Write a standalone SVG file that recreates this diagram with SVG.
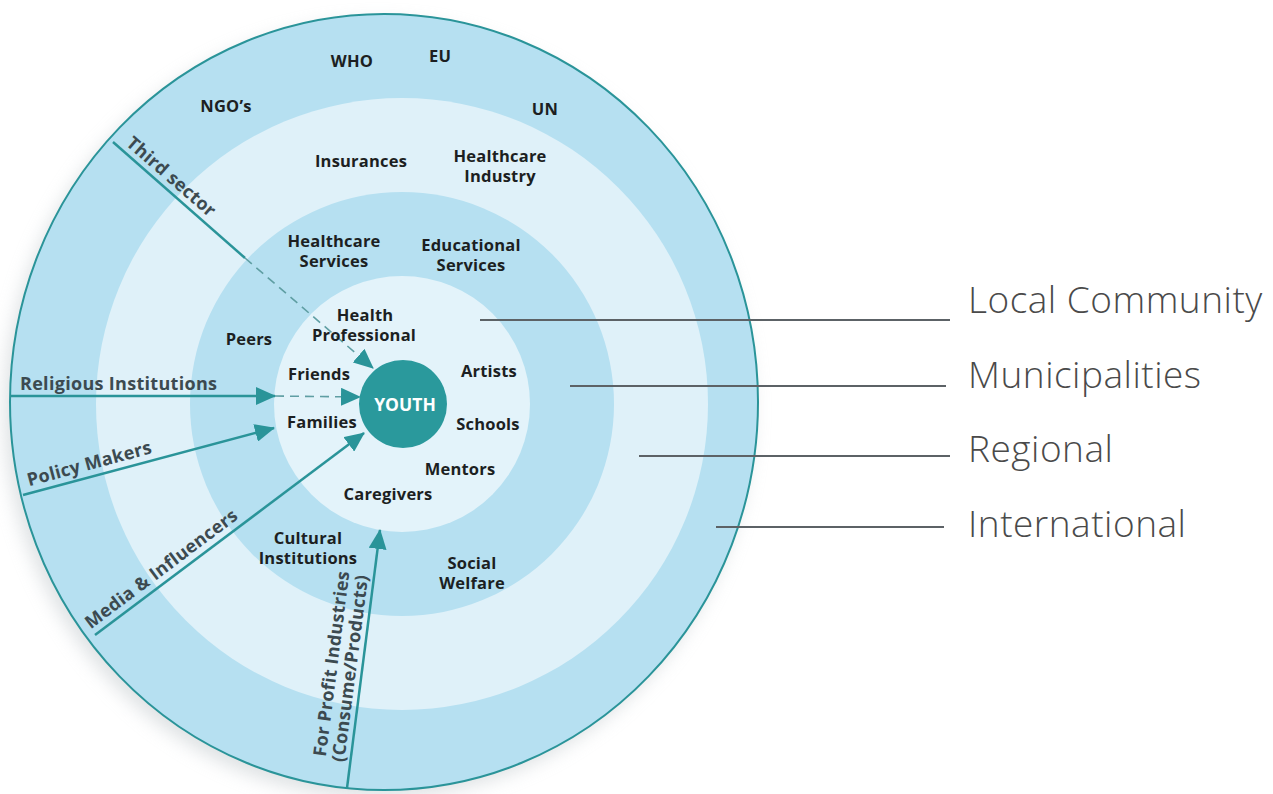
<svg xmlns="http://www.w3.org/2000/svg" width="1273" height="794" viewBox="0 0 1273 794">
<defs>
  <filter id="glow" x="-20%" y="-20%" width="140%" height="140%">
    <feGaussianBlur stdDeviation="9"/>
  </filter>
  <marker id="arr" viewBox="0 0 20 18" refX="19" refY="9" markerWidth="20" markerHeight="18" markerUnits="userSpaceOnUse" orient="auto">
    <path d="M0,0 L20,9 L0,18 z" fill="#2a9499"/>
  </marker>
  <style>
    .lbl{font-family:"Open Sans","Liberation Sans",sans-serif;font-weight:700;font-size:16.5px;fill:#1c1f22;text-anchor:middle;letter-spacing:0.2px}
    .side{font-family:"Open Sans","Liberation Sans",sans-serif;font-weight:700;font-size:18px;fill:#3c4a50;letter-spacing:0.3px}
    .legend{font-family:"Open Sans","Liberation Sans",sans-serif;font-weight:300;font-size:37px;fill:#4a4a4a;letter-spacing:0.5px}
    .solid{stroke:#2a9499;stroke-width:2.5;fill:none}
    .dash{stroke:#5f9ea3;stroke-width:1.6;stroke-dasharray:9 6;fill:none}
    .leg{stroke:#5c6266;stroke-width:2}
  </style>
</defs>
<rect width="1273" height="794" fill="#ffffff"/>

<g id="rings">
  <ellipse cx="378" cy="410" rx="374" ry="388" fill="#c9cfd2" opacity="0.6" filter="url(#glow)"/>
  <ellipse id="international" cx="384" cy="402" rx="374" ry="388" fill="#b6e0f1" stroke="#2a9499" stroke-width="2"/>
  <circle id="regional" cx="402" cy="404" r="306" fill="#dff1f9"/>
  <circle id="municipalities" cx="402" cy="404" r="212" fill="#b6e0f1"/>
  <circle id="local" cx="402" cy="404" r="128" fill="#e3f3fa"/>
</g>

<g id="legend-lines">
  <line class="leg" x1="480" y1="320" x2="950" y2="320"/>
  <line class="leg" x1="570" y1="386" x2="946" y2="386"/>
  <line class="leg" x1="639" y1="456" x2="950" y2="456"/>
  <line class="leg" x1="716" y1="527" x2="944" y2="527"/>
</g>

<g id="connectors">
  <line class="solid" x1="113" y1="142" x2="245" y2="258"/>
  <line class="dash" x1="245" y1="258" x2="373" y2="368" marker-end="url(#arr)"/>
  <line class="solid" x1="10" y1="396" x2="275" y2="396" marker-end="url(#arr)"/>
  <line class="dash" x1="275" y1="396" x2="360" y2="397" marker-end="url(#arr)"/>
  <line class="solid" x1="23" y1="495" x2="274" y2="428" marker-end="url(#arr)"/>
  <line class="solid" x1="95" y1="635" x2="364" y2="433" marker-end="url(#arr)"/>
  <line class="solid" x1="347" y1="788" x2="380" y2="530" marker-end="url(#arr)"/>
</g>

<g id="youth">
  <circle cx="403" cy="404" r="44" fill="#2a999c"/>
  <text x="405" y="411" style="font-family:'Open Sans','Liberation Sans',sans-serif;font-weight:700;font-size:17.5px;fill:#ffffff;text-anchor:middle">YOUTH</text>
</g>

<g id="side-labels">
  <g id="third-sector" transform="translate(113,142) rotate(41)"><text class="side" x="11" y="-6">Third sector</text></g>
  <g id="religious"><text class="side" x="20" y="390">Religious Institutions</text></g>
  <g id="policy" transform="translate(23,495) rotate(-15)"><text class="side" x="8" y="-7">Policy Makers</text></g>
  <g id="media" transform="translate(95,635) rotate(-36.9)"><text class="side" x="0" y="-7">Media &amp; Influencers</text></g>
  <g id="for-profit" transform="translate(347,788) rotate(-82.7)">
    <text class="side" x="28" y="-25">For Profit Industries<tspan x="25" dy="19">(Consume/Products)</tspan></text>
  </g>
</g>

<g id="international-labels">
  <g id="who"><text class="lbl" x="352" y="67">WHO</text></g>
  <g id="eu"><text class="lbl" x="440" y="62">EU</text></g>
  <g id="ngos"><text class="lbl" x="226" y="112">NGO’s</text></g>
  <g id="un"><text class="lbl" x="545" y="115">UN</text></g>
</g>
<g id="regional-labels">
  <g id="insurances"><text class="lbl" x="361" y="167">Insurances</text></g>
  <g id="healthcare-industry"><text class="lbl" x="500" y="162">Healthcare<tspan x="500" dy="20">Industry</tspan></text></g>
</g>
<g id="municipal-labels">
  <g id="healthcare-services"><text class="lbl" x="334" y="247">Healthcare<tspan x="334" dy="20">Services</tspan></text></g>
  <g id="educational-services"><text class="lbl" x="471" y="251">Educational<tspan x="471" dy="20">Services</tspan></text></g>
  <g id="peers"><text class="lbl" x="249" y="345">Peers</text></g>
  <g id="cultural"><text class="lbl" x="308" y="544">Cultural<tspan x="308" dy="20">Institutions</tspan></text></g>
  <g id="social-welfare"><text class="lbl" x="472" y="569">Social<tspan x="472" dy="20">Welfare</tspan></text></g>
</g>
<g id="local-labels">
  <g id="health-professional"><text class="lbl" x="365" y="321">Health<tspan x="364" dy="20">Professional</tspan></text></g>
  <g id="friends"><text class="lbl" x="319" y="380">Friends</text></g>
  <g id="families"><text class="lbl" x="322" y="428">Families</text></g>
  <g id="artists"><text class="lbl" x="489" y="377">Artists</text></g>
  <g id="schools"><text class="lbl" x="488" y="430">Schools</text></g>
  <g id="mentors"><text class="lbl" x="460" y="475">Mentors</text></g>
  <g id="caregivers"><text class="lbl" x="388" y="500">Caregivers</text></g>
</g>

<g id="legend">
  <text class="legend" x="968" y="313">Local Community</text>
  <text class="legend" x="968" y="388">Municipalities</text>
  <text class="legend" x="968" y="462">Regional</text>
  <text class="legend" x="968" y="537">International</text>
</g>
</svg>
